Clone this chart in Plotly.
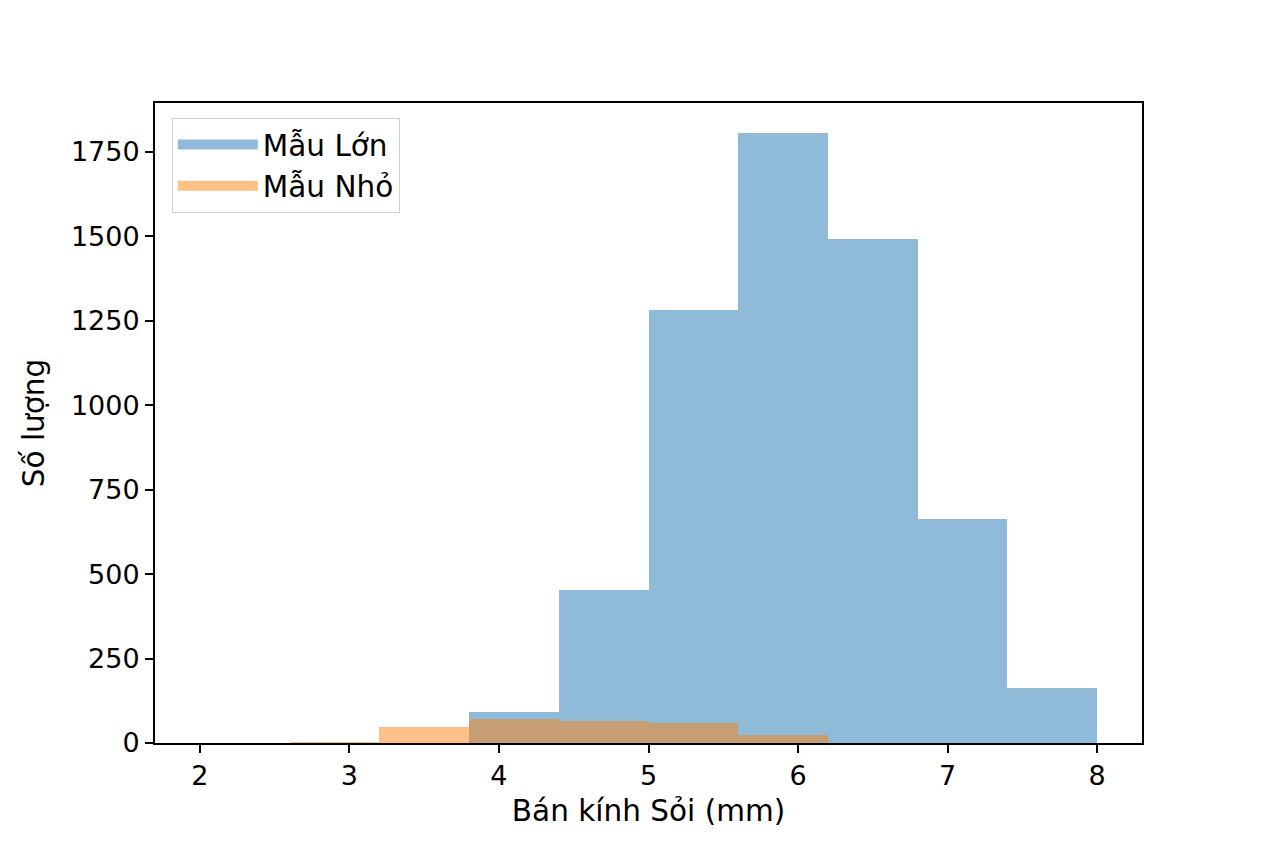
import plotly.graph_objects as go

# histogram bins (mm) and counts
bin_edges = [2.0, 2.6, 3.2, 3.8, 4.4, 5.0, 5.6, 6.2, 6.8, 7.4, 8.0]
large_counts = [0, 0, 0, 93, 453, 1282, 1805, 1492, 663, 163]
small_counts = [1, 4, 47, 70, 66, 58, 24, 0, 0, 0]

series_names = ["Mẫu Lớn", "Mẫu Nhỏ"]
series_colors = ["rgba(31,119,180,0.5)", "rgba(255,127,14,0.5)"]
x_ticks = [2, 3, 4, 5, 6, 7, 8]
y_ticks = [0, 250, 500, 750, 1000, 1250, 1500, 1750]

centers = [(a + b) / 2 for a, b in zip(bin_edges[:-1], bin_edges[1:])]
widths = [b - a for a, b in zip(bin_edges[:-1], bin_edges[1:])]

font = "DejaVu Sans"

fig = go.Figure()
for name, counts, color in zip(series_names, [large_counts, small_counts], series_colors):
    fig.add_trace(go.Bar(x=centers, y=counts, width=widths, name=name, showlegend=False,
                         marker=dict(color=color, line=dict(width=0))))
# legend entries drawn as wide patches like matplotlib's
for name, color in zip(series_names, series_colors):
    fig.add_trace(go.Scatter(x=[None], y=[None], mode="lines", name=name,
                             line=dict(color=color, width=18)))

axis_common = dict(
    showline=True, linecolor="black", linewidth=2, mirror=True,
    ticks="outside", ticklen=8, tickwidth=2, tickcolor="black",
    showgrid=False, zeroline=False,
    tickfont=dict(family=font, size=27, color="black"),
)

fig.update_layout(
    width=1264, height=848,
    margin=dict(l=147, r=130, t=95, b=113),
    paper_bgcolor="white", plot_bgcolor="white",
    barmode="overlay", bargap=0,
    font=dict(family=font, size=27, color="black"),
    xaxis=dict(range=[1.7, 8.3], tickvals=x_ticks,
               title=dict(text="Bán kính Sỏi (mm)", font=dict(family=font, size=29.5), standoff=10),
               **axis_common),
    yaxis=dict(range=[0, 1895], tickvals=y_ticks,
               title=dict(text="Số lượng", font=dict(family=font, size=29.5), standoff=18),
               **axis_common),
    legend=dict(x=0.017, y=0.977, xanchor="left", yanchor="top",
                bgcolor="rgba(255,255,255,0.8)", bordercolor="#d0d0d0", borderwidth=1,
                font=dict(family=font, size=29.5), itemwidth=80, tracegroupgap=2),
    showlegend=True,
)

fig.write_html("out.html")
